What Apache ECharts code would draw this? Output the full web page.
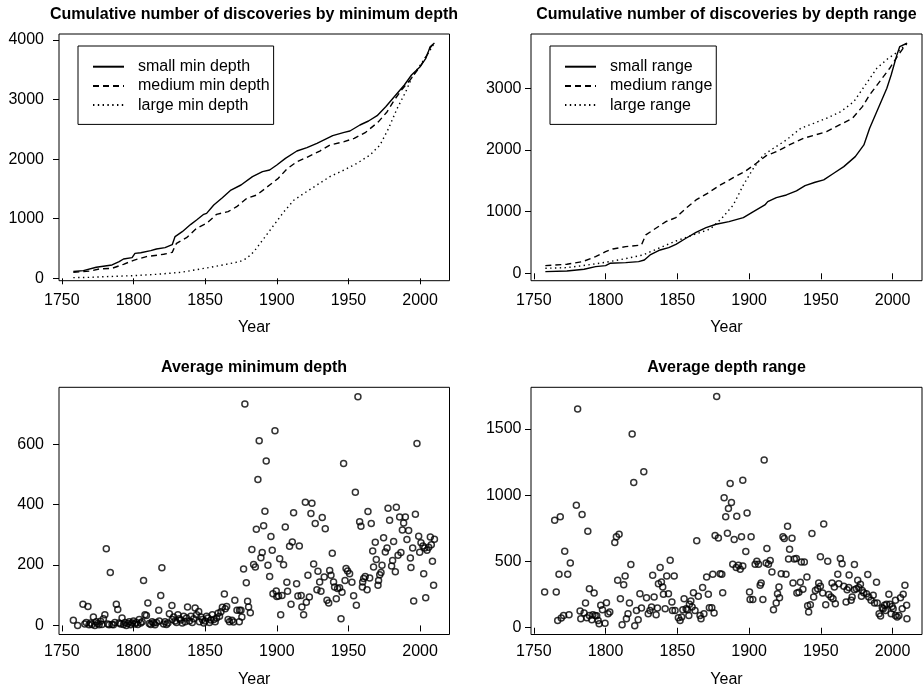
<!DOCTYPE html>
<html><head><meta charset="utf-8">
<script src="https://cdn.jsdelivr.net/npm/echarts@6/dist/echarts.min.js"></script>
<style>html,body{margin:0;padding:0;background:#fff}#c{width:923px;height:690px}</style>
</head><body><div id="c"></div>
<script>
// ---------- DATA ----------
const titles = ['Cumulative number of discoveries by minimum depth','Cumulative number of discoveries by depth range','Average minimum depth','Average depth range'];
const xTicks = [1750,1800,1850,1900,1950,2000];
const yTicksTL = [0,1000,2000,3000,4000];
const yTicksTR = [0,1000,2000,3000];
const yTicksBL = [0,200,400,600];
const yTicksBR = [0,500,1000,1500];
const namesMin = ['small min depth','medium min depth','large min depth'];
const namesRange = ['small range','medium range','large range'];

const smallMin = [[1758,115],[1765,129],[1774,185],[1785,224],[1790,280],[1793,324],[1799,347],[1801,419],[1805,430],[1812,464],[1816,492],[1822,515],[1827,565],[1829,700],[1830,727],[1834,783],[1840,906],[1844,979],[1849,1074],[1851,1090],[1856,1230],[1862,1353],[1868,1482],[1875,1566],[1883,1706],[1890,1790],[1895,1818],[1900,1902],[1906,2013],[1914,2136],[1921,2192],[1928,2265],[1939,2394],[1947,2450],[1951,2472],[1958,2573],[1964,2640],[1970,2729],[1976,2880],[1983,3076],[1989,3244],[1994,3412],[2000,3551],[2004,3691],[2007,3887],[2010,3950]];
const mediumMin = [[1758,100],[1770,123],[1776,157],[1785,168],[1793,235],[1800,302],[1809,364],[1821,403],[1827,436],[1829,540],[1830,587],[1837,682],[1844,839],[1851,923],[1858,1074],[1866,1119],[1872,1202],[1879,1342],[1886,1398],[1895,1566],[1901,1678],[1907,1834],[1914,1957],[1921,2030],[1930,2136],[1937,2237],[1947,2293],[1954,2349],[1962,2450],[1971,2629],[1977,2796],[1982,2992],[1987,3160],[1993,3328],[2000,3551],[2005,3758],[2007,3870],[2010,3950]];
const largeMin = [[1758,11],[1770,17],[1781,28],[1800,45],[1816,67],[1833,100],[1847,157],[1860,213],[1874,280],[1879,336],[1884,447],[1891,671],[1898,895],[1905,1119],[1912,1314],[1919,1426],[1928,1566],[1937,1706],[1947,1818],[1956,1930],[1965,2069],[1972,2237],[1978,2517],[1984,2852],[1990,3132],[1995,3412],[2001,3607],[2007,3831],[2010,3950]];

const smallRange = [[1758,27],[1773,38],[1785,65],[1793,108],[1800,124],[1803,162],[1814,173],[1823,189],[1827,216],[1831,297],[1838,378],[1844,416],[1849,470],[1856,568],[1863,665],[1870,741],[1877,795],[1886,838],[1896,903],[1903,1000],[1911,1108],[1913,1162],[1919,1227],[1926,1270],[1933,1335],[1939,1422],[1946,1476],[1952,1514],[1959,1622],[1966,1730],[1974,1892],[1980,2081],[1984,2351],[1990,2676],[1996,3000],[1999,3216],[2003,3541],[2005,3676],[2010,3730]];
const mediumRange = [[1758,124],[1773,146],[1784,189],[1793,270],[1800,351],[1805,395],[1814,432],[1825,459],[1828,622],[1835,730],[1842,838],[1849,903],[1856,1054],[1863,1189],[1871,1297],[1880,1432],[1889,1551],[1897,1649],[1905,1784],[1912,1908],[1919,1973],[1928,2081],[1938,2189],[1946,2243],[1954,2297],[1963,2405],[1972,2514],[1979,2703],[1984,2892],[1991,3108],[1998,3324],[2004,3541],[2010,3730]];
const largeRange = [[1758,81],[1773,92],[1784,124],[1800,178],[1815,243],[1826,297],[1838,416],[1849,524],[1861,622],[1873,719],[1881,892],[1889,1108],[1896,1432],[1903,1703],[1910,1919],[1917,2027],[1926,2162],[1936,2351],[1945,2432],[1954,2514],[1964,2622],[1973,2784],[1981,3054],[1989,3324],[1997,3486],[2004,3595],[2010,3730]];

const avgMinDepth = [[1758,17],[1761,0],[1764.7,70],[1766,5],[1767,10],[1768.2,63],[1769,2],[1770,8],[1771,3],[1772,28],[1773,0],[1774,12],[1775,6],[1776,2],[1777,14],[1778,3],[1779,22],[1780,35],[1781,254],[1782,5],[1783,2],[1783.8,175],[1785,3],[1786,2],[1787,10],[1788,70],[1789,53],[1790,8],[1791,5],[1792,25],[1793,3],[1794,10],[1795,0],[1796,6],[1797,12],[1798,2],[1799,8],[1800,15],[1801,5],[1802,10],[1803,3],[1804,20],[1805,8],[1806,12],[1807,149],[1808,35],[1809,33],[1810,74],[1811,6],[1812,3],[1813,12],[1814,8],[1815,2],[1816,10],[1817.6,50],[1818,15],[1819,99],[1819.8,191],[1821,5],[1822,12],[1823,3],[1824,8],[1825,39],[1826.8,66],[1827,20],[1828,28],[1829,15],[1830,10],[1831,35],[1832,22],[1833,18],[1834,8],[1835,30],[1836,12],[1837,25],[1837.7,61],[1839,15],[1840,30],[1841,10],[1842,22],[1843,58],[1844,35],[1845.5,46],[1846,12],[1847,28],[1848,20],[1849,8],[1850,15],[1851,30],[1852,25],[1853,10],[1854,18],[1855,35],[1856,20],[1857,12],[1858,25],[1859,40],[1860,30],[1861,45],[1862,60],[1863.4,104],[1864,55],[1865,63],[1866,20],[1867,12],[1868.7,17],[1869.8,11],[1870.7,83],[1872.2,50],[1874,50],[1875,50],[1873.8,12],[1875.6,28],[1879.6,80],[1880.3,61],[1881.5,42],
[1876.8,187],[1877.7,733],[1878.7,141],[1882.6,251],[1883.8,202],[1885,193],[1885.7,318],[1886.8,483],[1887.7,611],[1888.9,224],[1889.8,241],[1890.8,330],[1891.7,378],[1892.6,544],[1893.8,199],[1895,162],[1895.9,294],[1896.8,249],[1897.3,105],[1898.7,644],[1899.6,114],[1900,96],[1901.2,97],[1902,221],[1902.7,35],[1903.6,99],[1904.7,201],[1905.9,326],[1907,143],[1907.5,113],[1908.9,262],[1909.9,70],[1910.8,276],[1911.7,373],[1913.8,138],[1914.7,97],[1915.7,263],[1917,99],[1917.5,61],[1918.7,35],[1919.9,408],[1920.6,77],[1921.7,166],[1922.7,94],[1923.8,370],[1924.5,404],[1925.7,203],[1926.8,337],[1928,118],[1928.7,179],[1929.9,144],[1930.8,113],[1931.7,357],[1933.1,160],[1933.8,320],[1935,83],[1936.2,74],[1936.9,182],[1937.8,166],[1938.7,239],[1939.6,144],[1940.3,127],[1941.5,88],[1942.4,122],[1943.8,125],[1944.8,22],[1945.5,110],[1946.6,536],[1947.6,149],[1948.3,188],[1949.4,180],[1950.8,171],[1952.4,143],[1953.6,98],[1954.8,441],[1955.5,67],[1956.6,757],[1957.8,343],[1958.7,328],[1959.7,127],[1959.9,144],[1960.6,155],[1961.7,162],[1963,118],[1963.6,377],[1964.8,157],[1965.9,337],[1966.9,246],[1967.5,193],[1968.7,275],[1969.4,218],[1970.6,133],[1971,149],[1971.8,168],[1972.7,175],[1973.4,199],[1974.5,290],[1975.7,243],[1976.9,256],[1977.6,388],[1978.7,348],[1980.1,197],[1980.8,215],[1981.5,278],[1982.7,178],[1983.4,391],[1984.6,232],[1985.7,359],[1986.6,241],[1987.6,316],[1988.5,339],[1989.7,359],[1990.8,284],[1992,314],[1993.2,223],[1993.6,192],[1994.8,256],[1995.5,81],[1996.7,368],[1997.8,602],[1999,295],[1999.7,242],[2000.6,274],[2002,263],[2002.5,171],[2003.2,256],[2003.9,92],[2004.8,249],[2006,259],[2007.1,293],[2007.8,267],[2008.6,212],[2009.4,133],[2010,285]];

const avgDepthRange = [[1757.5,270],[1764.5,812],[1768.4,837],[1765.6,270],[1767.5,403],[1771.5,577],[1773.6,403],[1775.4,489],[1766.6,55],[1769.1,73],[1770.7,93],[1774.5,98],
[1779.6,925],[1780.5,1652],[1783.6,855],[1787.6,729],[1782.2,126],[1782.7,68],[1785,111],[1786,187],[1786.9,76],[1788.7,93],[1790.4,60],[1791.1,98],[1792.7,93],[1793.8,91],[1788.7,295],[1792,262],[1794.8,55],[1795.5,30],[1796.6,169],[1797.8,136],[1799.6,33],[1800.6,189],[1801.7,106],[1802.9,118],
[1806.4,643],[1807.5,686],[1809.4,706],[1808.4,358],[1812.6,325],[1813.6,391],[1810.3,219],[1811.5,23],[1814.5,68],[1815.6,106],[1816.6,187],[1817.6,477],[1818.5,1462],[1819.6,1097],[1820.3,15],[1821.5,131],[1822.7,61],[1823.9,257],[1825,149],[1826.6,1177],[1828.5,227],[1829.7,106],[1830.9,131],[1832,156],[1832.8,396],[1833.8,232],[1835.2,98],[1836.1,149],[1836.8,333],[1838,454],[1838.9,345],[1839.8,308],[1840.3,252],[1841.5,144],[1842.6,391],[1843.8,257],[1845,509],[1846.2,194],[1846.6,131],[1847.8,391],[1848.4,131],[1850.7,76],[1851.9,55],[1853,81],[1853.8,136],[1854.7,219],[1856.1,144],[1857,136],[1858,93],[1858.4,177],[1859.4,202],[1860.3,156],[1861.2,265],[1863.5,656],[1862.3,131],[1864.6,237],[1865.8,93],[1866.5,68],[1867.6,303],[1868.5,106],[1870.4,383],[1871.6,252],[1872.3,151],
[1874.7,403],[1879.8,408],[1881,403],[1881.6,265],[1875.6,111],[1874,151],
[1877.4,1745],[1910.5,1266],[1886.8,1089],[1895.6,1114],[1882.6,981],[1887.7,946],[1885.6,900],[1883.7,837],[1891.4,842],[1898.6,867],[1876.3,696],[1878.6,678],[1884.9,714],[1889.6,666],[1894.7,686],[1901.4,686],[1897.7,575],[1888.6,479],[1891,454],[1892.6,472],[1893.8,441],[1895.6,466],[1904.2,479],[1905.4,502],[1906.6,479],[1912.4,598],[1911.9,489],[1913.5,479],[1914.7,507],[1915.9,421],[1922.4,408],[1925.7,403],[1923.6,686],[1924.5,673],[1929.9,676],[1926.8,767],[1928.2,593],[1927.5,519],[1931.5,519],[1932.9,522],[1936.4,497],[1938.5,497],[1943.8,711],[1952,784],[1949.7,535],[1954.8,502],[1963.6,522],[1964.8,484],[1973.4,477],[1961.8,403],[1969.7,398],[1982.7,401],[1988.8,343],[1930.6,338],[1935.7,343],[1940.3,383],[1937.5,290],[1933.3,262],[1934.7,267],[1946.2,282],[1947.8,295],[1948.5,338],[1949.7,313],[1951.3,262],[1945,232],[1940.8,166],[1942.7,174],[1941.5,119],[1953.4,174],[1955.5,250],[1957.1,232],[1958.5,219],[1960.1,182],[1957.8,338],[1959.4,308],[1962.5,333],[1966,313],[1968.3,287],[1969.5,303],[1971.8,232],[1973.4,287],[1974.8,295],[1967.6,194],[1971.1,207],[1975.7,358],[1977.6,328],[1978.8,282],[1979.9,265],[1981.8,257],[1976.4,303],[1978.3,237],[1983.4,232],[1985,207],[1986.5,245],[1987.4,187],[1989.3,187],[1992.8,151],[1994.4,169],[1995.8,177],[1990.6,106],[1991.6,88],[1993.5,144],[1995.1,131],[1997.4,252],[1998.1,177],[1999.7,161],[2000.4,144],[1999,106],[2002,93],[2003.2,81],[2004.4,93],[2002,207],[2005.5,227],[2007.4,252],[2008.6,320],[2006.7,144],[2009.8,169],[2010,68],
[1900.3,270],[1900.7,214],[1902.6,214],[1909.6,214],[1907.7,320],[1908.4,338],[1917,136],[1918.9,187],[1919.8,257],[1920.8,308],[1921.2,227]];

// ---------- CHART ----------
const FONT = '"Liberation Sans", Arial, Helvetica, sans-serif';
const FS = 16;
const chart = echarts.init(document.getElementById('c'), null, {renderer: 'canvas'});
const plain = v => String(v);

const grids = [
  {left: 59, top: 34, width: 390.5, height: 246.7},
  {left: 531, top: 34, width: 391, height: 246.7},
  {left: 59, top: 387.3, width: 390.5, height: 247.2},
  {left: 531, top: 387.3, width: 391, height: 247.2}
].map(g => Object.assign({show: true, borderColor: '#000', borderWidth: 1, backgroundColor: 'transparent', containLabel: false}, g));

function mkX(i, labelMargin, nameGap) {
  return {
    type: 'value', gridIndex: i, min: 1748, max: 2020.5,
    name: 'Year', nameLocation: 'middle', nameGap: nameGap,
    nameTextStyle: {fontFamily: FONT, fontSize: FS, color: '#000'},
    axisLine: {show: false},
    axisTick: {show: true, length: 6, lineStyle: {color: '#000', width: 1}, customValues: xTicks},
    axisLabel: {show: true, customValues: xTicks, formatter: plain, margin: labelMargin, fontFamily: FONT, fontSize: FS, color: '#000'},
    splitLine: {show: false}
  };
}
function mkY(i, min, max, ticks, labelMargin) {
  return {
    type: 'value', gridIndex: i, min: min, max: max,
    axisLine: {show: false},
    axisTick: {show: true, length: 6, lineStyle: {color: '#000', width: 1}, customValues: ticks},
    axisLabel: {show: true, customValues: ticks, formatter: plain, margin: labelMargin, fontFamily: FONT, fontSize: FS, color: '#000'},
    splitLine: {show: false}
  };
}

const lineStyles = [
  {color: '#000', width: 1.4, type: 'solid'},
  {color: '#000', width: 1.4, type: [6, 4]},
  {color: '#000', width: 1.4, type: [1.4, 3.4]}
];
function lineSeries(name, data, idx, styleIdx) {
  return {type: 'line', name: name, data: data, xAxisIndex: idx, yAxisIndex: idx,
    symbol: 'none', showSymbol: false, lineStyle: lineStyles[styleIdx], itemStyle: {color: '#000'},
    clip: true, silent: true, animation: false};
}
function scatterSeries(data, idx) {
  return {type: 'scatter', data: data, xAxisIndex: idx, yAxisIndex: idx, symbol: 'circle', symbolSize: 6,
    itemStyle: {color: 'rgba(0,0,0,0)', borderColor: '#000', borderWidth: 1.5}, silent: true, animation: false};
}
function mkLegend(names, left) {
  return {
    data: names, orient: 'vertical', left: left, top: 46,
    itemWidth: 31, itemHeight: 14, itemGap: 3.2,
    padding: [12.7, 4, 11.3, 14],
    borderColor: '#000', borderWidth: 1, backgroundColor: '#fff',
    itemStyle: {opacity: 0},
    textStyle: {fontFamily: FONT, fontSize: FS, color: '#000', lineHeight: 16, padding: [0, 0, 0, 9]},
    selectedMode: false
  };
}
function mkTitle(text, cx, top) {
  return {text: text, left: cx, top: top, textAlign: 'center', padding: 0,
    textStyle: {fontFamily: FONT, fontSize: 16, fontWeight: 'bold', color: '#000'}};
}

const option = {
  backgroundColor: '#fff',
  animation: false,
  title: [mkTitle(titles[0], 254, 7), mkTitle(titles[1], 726.5, 7), mkTitle(titles[2], 254, 359.5), mkTitle(titles[3], 726.5, 359.5)],
  legend: [mkLegend(namesMin, 78), mkLegend(namesRange, 550)],
  grid: grids,
  xAxis: [mkX(0, 12, 39), mkX(1, 12, 39), mkX(2, 9.5, 37.5), mkX(3, 9.5, 37.5)],
  yAxis: [mkY(0, -40, 4100, yTicksTL, 15), mkY(1, -120, 3880, yTicksTR, 9.5), mkY(2, -30, 788, yTicksBL, 15), mkY(3, -51, 1815, yTicksBR, 9.5)],
  series: [
    lineSeries(namesMin[0], smallMin, 0, 0),
    lineSeries(namesMin[1], mediumMin, 0, 1),
    lineSeries(namesMin[2], largeMin, 0, 2),
    lineSeries(namesRange[0], smallRange, 1, 0),
    lineSeries(namesRange[1], mediumRange, 1, 1),
    lineSeries(namesRange[2], largeRange, 1, 2),
    scatterSeries(avgMinDepth, 2),
    scatterSeries(avgDepthRange, 3)
  ]
};
chart.setOption(option);
</script></body></html>
